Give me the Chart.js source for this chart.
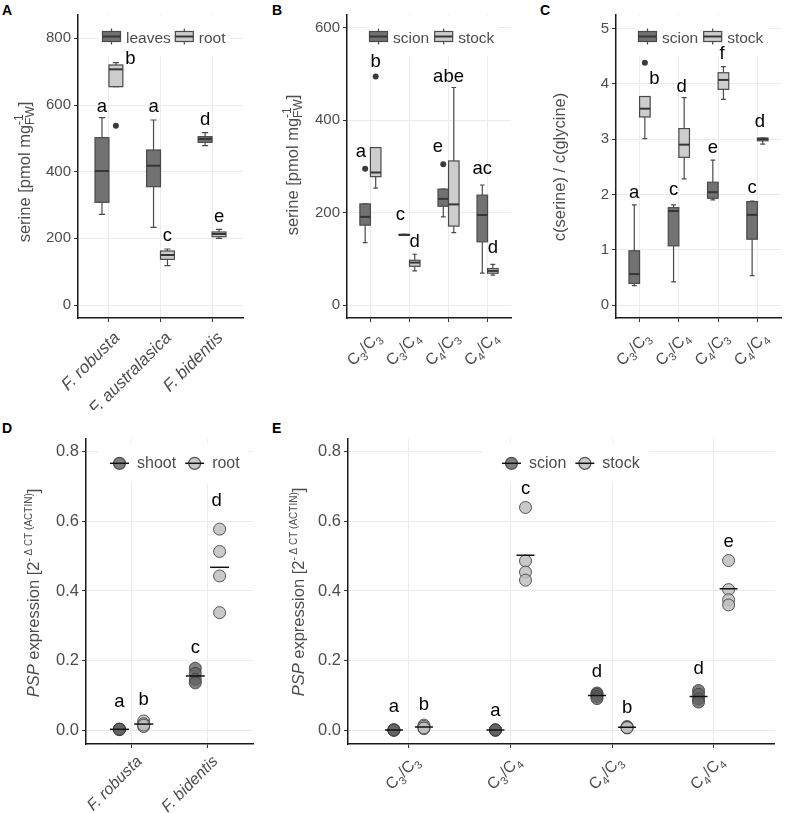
<!DOCTYPE html>
<html>
<head>
<meta charset="utf-8">
<script src="https://cdn.jsdelivr.net/npm/chart.js@4.4.0/dist/chart.umd.min.js"></script>
<style>
  body { margin: 0; background: #fff; width: 785px; height: 813px; position: relative; overflow: hidden;
         font-family: 'Liberation Sans', Arial, sans-serif; }
  canvas { position: absolute; }
  .tag { position: absolute; font-weight: bold; font-size: 14px; line-height: 14px; color: #000; }
</style>
</head>
<body>
<div class="tag" style="left:2px;top:3px">A</div>
<div class="tag" style="left:272px;top:3px">B</div>
<div class="tag" style="left:540px;top:3px">C</div>
<div class="tag" style="left:2px;top:421px">D</div>
<div class="tag" style="left:272px;top:421px">E</div>

<canvas id="cA" style="left:0;top:0" width="255" height="410"></canvas>
<canvas id="cB" style="left:255px;top:0" width="260" height="400"></canvas>
<canvas id="cC" style="left:515px;top:0" width="270" height="400"></canvas>
<canvas id="cD" style="left:0;top:400px" width="265" height="413"></canvas>
<canvas id="cE" style="left:265px;top:400px" width="520" height="413"></canvas>

<script>
// ---------- data ----------
const speciesA = ['F. robusta', 'F. australasica', 'F. bidentis'];
const speciesD = ['F. robusta', 'F. bidentis'];
const graftCats = ['C3/C3', 'C3/C4', 'C4/C3', 'C4/C4'];

// boxes: [lower whisker, Q1, median, Q3, upper whisker]
// A - serine, leaves vs root
const leavesA = [[272, 308, 402, 502, 562], [233, 355, 418, 465, 555], [478, 488, 498, 505, 517]];
const rootA = [[655, 655, 707, 720, 727], [118, 137, 150, 162, 168], [200, 205, 213, 219, 227]];
const leavesOutA = [[], [], []];
const rootOutA = [[538], [], []];
const leavesLettersA = ['a', 'a', 'd'];
const leavesLetterYA = [580, 580, 540];
const rootLettersA = ['b', 'c', 'e'];
const rootLetterYA = [723, 193, 250];
const ticksA = [0, 200, 400, 600, 800];

// B - serine, scion vs stock
const scionB = [[135, 173, 191, 219, 219], [151, 151, 152, 153, 153], [191, 214, 230, 251, 251], [69, 137, 195, 238, 260]];
const stockB = [[253, 278, 287, 341, 341], [74, 84, 92, 97, 110], [157, 171, 218, 312, 471], [65, 69, 74, 79, 88]];
const scionOutB = [[295], [], [305], []];
const stockOutB = [[495], [], [], []];
const scionLettersB = ['a', 'c', 'e', 'ac'];
const scionLetterYB = [321, 184, 332, 283];
const stockLettersB = ['b', 'd', 'abe', 'd'];
const stockLetterYB = [516, 126, 482, 112];
const ticksB = [0, 200, 400, 600];

// C - serine / glycine ratio
const scionC = [[0.35, 0.39, 0.56, 0.98, 1.81], [0.42, 1.07, 1.70, 1.76, 1.81], [1.90, 1.93, 2.04, 2.22, 2.62], [0.53, 1.19, 1.63, 1.87, 1.88]];
const stockC = [[3.01, 3.40, 3.55, 3.77, 3.77], [2.28, 2.67, 2.90, 3.19, 3.75], [3.72, 3.90, 4.07, 4.20, 4.31], [2.91, 2.97, 3.00, 3.02, 3.02]];
const scionOutC = [[], [], [], []];
const stockOutC = [[4.38], [], [], []];
const scionLettersC = ['a', 'c', 'e', 'c'];
const scionLetterYC = [1.93, 1.99, 2.74, 2.02];
const stockLettersC = ['b', 'd', 'f', 'd'];
const stockLetterYC = [3.99, 3.86, 4.45, 3.22];
const ticksC = [0, 1, 2, 3, 4, 5];

// D - PSP expression, shoot vs root (single replicates)
const shootD = [[0.003, 0.004, 0.005, 0.004], [0.179, 0.164, 0.147, 0.137]];
const rootD = [[0.028, 0.020, 0.012, 0.016], [0.577, 0.513, 0.443, 0.338]];
const shootLettersD = ['a', 'c'];
const shootLetterYD = [0.069, 0.222];
const rootLettersD = ['b', 'd'];
const rootLetterYD = [0.074, 0.642];

// E - PSP expression, scion vs stock
const scionE = [[0.001, 0.002, 0.003, 0.002], [0.001, 0.002, 0.003, 0.002], [0.108, 0.104, 0.098, 0.092], [0.115, 0.104, 0.091, 0.082]];
const stockE = [[0.016, 0.012, 0.006, 0.008], [0.639, 0.486, 0.454, 0.431], [0.012, 0.010, 0.008, 0.009], [0.487, 0.404, 0.375, 0.360]];
const scionLettersE = ['a', 'a', 'd', 'd'];
const scionLetterYE = [0.053, 0.043, 0.154, 0.163];
const stockLettersE = ['b', 'c', 'b', 'e'];
const stockLetterYE = [0.06, 0.678, 0.05, 0.527];
const ticksPSP = [0, 0.2, 0.4, 0.6, 0.8];

// ---------- styling ----------
const FONT = "'Liberation Sans', Arial, Helvetica, sans-serif";
const BOX_DARK = '#727272', BOX_LIGHT = '#cdcdcd', BOX_EDGE = '#4a4a4a';
const PT_DARK = 'rgba(100,100,100,0.82)', PT_LIGHT = 'rgba(192,192,192,0.85)', PT_EDGE = 'rgba(60,60,60,0.85)';
const GREY_TXT = '#4d4d4d';

function font(size, italic) {
    return (italic ? 'italic ' : '') + size + 'px ' + FONT;
}

// draws (or measures) a list of text runs; sub/sup runs can be stacked
function runs(ctx, list, base, x, y, draw) {
    let cx = x;
    list.forEach(r => {
        const parts = r.stack || [r];
        let w = 0;
        parts.forEach(s => {
            ctx.font = font(s.size || base, s.it);
            if (draw) ctx.fillText(s.t, cx, y + (s.dy || 0));
            w = Math.max(w, ctx.measureText(s.t).width);
        });
        cx += w;
    });
    return cx - x;
}

function labelRuns(text, size, italic) {
    if (italic) return [{ t: text, it: true }];
    // C3/C4 -> digits as subscripts
    return text.split('').map(ch => /\d/.test(ch)
        ? { t: ch, size: size * 0.7, dy: size * 0.28 }
        : { t: ch });
}

function drawBox(ctx, xs, ys, xc, q, half, fill) {
    const px = xs.getPixelForValue(xc);
    const w = xs.getPixelForValue(xc + half) - px;
    const [lo, q1, med, q3, hi] = q.map(v => ys.getPixelForValue(v));
    const cap = w * 0.45;
    ctx.strokeStyle = BOX_EDGE;
    ctx.lineWidth = 1.2;
    ctx.beginPath();
    ctx.moveTo(px, hi); ctx.lineTo(px, q3);
    ctx.moveTo(px, q1); ctx.lineTo(px, lo);
    ctx.moveTo(px - cap, hi); ctx.lineTo(px + cap, hi);
    ctx.moveTo(px - cap, lo); ctx.lineTo(px + cap, lo);
    ctx.stroke();
    ctx.fillStyle = fill;
    ctx.fillRect(px - w, q3, 2 * w, Math.max(q1 - q3, 1));
    ctx.strokeRect(px - w, q3, 2 * w, Math.max(q1 - q3, 1));
    ctx.strokeStyle = '#363636';
    ctx.lineWidth = 2;
    ctx.beginPath();
    ctx.moveTo(px - w, med); ctx.lineTo(px + w, med);
    ctx.stroke();
}

function drawLegend(ctx, p) {
    const L = p.legend;
    ctx.font = font(p.legendSize);
    const widths = p.series.map(s => ctx.measureText(s.name).width);
    const total = widths.reduce((a, w) => a + L.key + L.gap + w, 0) + L.sep * (widths.length - 1);
    ctx.fillStyle = '#fff';
    ctx.fillRect(L.x - L.padL, L.cy - 20, total + L.padL + L.padR, 40);
    let x = L.x;
    p.series.forEach((s, k) => {
        const kx = x + L.key / 2, cy = L.cy;
        ctx.lineWidth = 1.2;
        if (p.kind === 'box') {
            ctx.strokeStyle = BOX_EDGE;
            ctx.beginPath();
            ctx.moveTo(kx, cy - 8); ctx.lineTo(kx, cy + 8);
            ctx.stroke();
            ctx.fillStyle = s.fill;
            ctx.fillRect(kx - 9, cy - 5, 18, 10);
            ctx.strokeRect(kx - 9, cy - 5, 18, 10);
            ctx.strokeStyle = '#363636';
            ctx.lineWidth = 2;
            ctx.beginPath();
            ctx.moveTo(kx - 9, cy); ctx.lineTo(kx + 9, cy);
            ctx.stroke();
        } else {
            ctx.fillStyle = s.fill;
            ctx.strokeStyle = PT_EDGE;
            ctx.beginPath();
            ctx.arc(kx, cy, 6, 0, Math.PI * 2);
            ctx.fill(); ctx.stroke();
            ctx.strokeStyle = '#111';
            ctx.lineWidth = 1.5;
            ctx.beginPath();
            ctx.moveTo(kx - 9.5, cy); ctx.lineTo(kx + 9.5, cy);
            ctx.stroke();
        }
        ctx.fillStyle = GREY_TXT;
        ctx.font = font(p.legendSize);
        ctx.textAlign = 'left';
        ctx.textBaseline = 'alphabetic';
        ctx.fillText(s.name, x + L.key + L.gap, cy + L.base);
        x += L.key + L.gap + widths[k] + L.sep;
    });
}

function panelPlugin(p) {
    return {
        id: 'panel_' + p.id,
        beforeDatasetsDraw(chart) {
            if (p.kind !== 'box') return;
            const ctx = chart.ctx, xs = chart.scales.x, ys = chart.scales.y;
            ctx.save();
            p.series.forEach((s, k) => {
                const off = (k === 0 ? -1 : 1) * p.off;
                s.boxes.forEach((q, i) => drawBox(ctx, xs, ys, i + 1 + off, q, p.off, s.fill));
            });
            ctx.restore();
        },
        afterDatasetsDraw(chart) {
            const ctx = chart.ctx, xs = chart.scales.x, ys = chart.scales.y;
            ctx.save();
            drawLegend(ctx, p);
            // significance letters
            ctx.fillStyle = '#000';
            ctx.font = font(p.letterSize);
            ctx.textAlign = 'center';
            ctx.textBaseline = 'alphabetic';
            p.series.forEach((s, k) => {
                const off = (k === 0 ? -1 : 1) * p.off;
                s.letters.forEach((t, i) => {
                    const dx = (p.shift && p.shift[k][i]) || 0;
                    ctx.fillText(t, xs.getPixelForValue(i + 1 + off + dx), ys.getPixelForValue(s.letterY[i]));
                });
            });
            ctx.restore();
        },
        afterDraw(chart) {
            const ctx = chart.ctx, xs = chart.scales.x, area = chart.chartArea;
            ctx.save();
            ctx.fillStyle = GREY_TXT;
            ctx.textAlign = 'left';
            ctx.textBaseline = 'alphabetic';
            // rotated category labels
            p.cats.forEach((c, i) => {
                const list = labelRuns(c, p.xSize, p.italic);
                const w = runs(ctx, list, p.xSize, 0, 0, false);
                ctx.save();
                ctx.translate(xs.getPixelForValue(i + 1) + 3, area.bottom + p.xDrop);
                ctx.rotate(-Math.PI / 4);
                runs(ctx, list, p.xSize, -w, p.xSize * 0.72, true);
                ctx.restore();
            });
            // y axis title
            const tw = runs(ctx, p.title.runs, p.titleSize, 0, 0, false);
            ctx.translate(p.title.cx, p.title.cy);
            ctx.rotate(-Math.PI / 2);
            runs(ctx, p.title.runs, p.titleSize, -tw / 2, p.titleSize * 0.35, true);
            ctx.restore();
        }
    };
}

function buildPanel(p) {
    const canvas = document.getElementById(p.id);
    const W = canvas.width, H = canvas.height;
    const datasets = [];
    p.series.forEach((s, k) => {
        const off = (k === 0 ? -1 : 1) * p.off;
        if (p.kind === 'box') {
            const pts = [];
            s.out.forEach((arr, i) => arr.forEach(v => pts.push({ x: i + 1 + off, y: v })));
            datasets.push({ data: pts, pointRadius: 3, backgroundColor: '#3a3a3a', borderWidth: 0, order: 0 });
        } else {
            const pts = [], means = [];
            s.values.forEach((arr, i) => {
                arr.forEach(v => pts.push({ x: i + 1 + off, y: v }));
                means.push({ x: i + 1 + off, y: arr.reduce((a, b) => a + b, 0) / arr.length });
            });
            datasets.push({ data: means, pointStyle: 'line', pointRadius: p.barHalf, borderColor: '#111', borderWidth: 1.5, order: 0 });
            datasets.push({ data: pts, pointRadius: 6, backgroundColor: s.fill, borderColor: PT_EDGE, borderWidth: 1, order: 1 });
        }
    });

    const grid = { color: '#ebebeb', lineWidth: 1, tickColor: '#333', tickLength: 4, drawTicks: true };
    const border = { display: true, color: '#1a1a1a', width: 1.5 };

    return new Chart(canvas, {
        type: 'scatter',
        data: { datasets },
        options: {
            responsive: false,
            animation: false,
            devicePixelRatio: 1,
            events: [],
            layout: { padding: { left: 0, top: p.area.t, right: W - p.area.r, bottom: 0 } },
            plugins: { legend: { display: false }, tooltip: { enabled: false } },
            scales: {
                x: {
                    type: 'linear',
                    min: 0.4,
                    max: p.cats.length + 0.6,
                    afterBuildTicks: s => { s.ticks = p.cats.map((c, i) => ({ value: i + 1 })); },
                    afterFit: s => { s.height = H - p.area.b; },
                    ticks: { display: false },
                    grid, border
                },
                y: {
                    type: 'linear',
                    min: p.yRange[0],
                    max: p.yRange[1],
                    afterBuildTicks: s => { s.ticks = p.yTicks.map(v => ({ value: v })); },
                    afterFit: s => { s.width = p.area.l; },
                    ticks: {
                        color: GREY_TXT,
                        padding: 3,
                        font: { family: FONT, size: p.tickSize },
                        callback: v => p.fmt(v)
                    },
                    grid, border
                }
            }
        },
        plugins: [panelPlugin(p)]
    });
}

const serineTitle = [
    { t: 'serine [pmol mg' },
    { stack: [{ t: '-1', size: 12, dy: -7 }, { t: 'FW', size: 12, dy: 4 }] },
    { t: ']' }
];
const pspTitle = [
    { t: 'PSP', it: true },
    { t: ' expression [2' },
    { t: '- \u0394 CT (ACTIN)', size: 10, dy: -7 },
    { t: ']' }
];

const topCommon = { kind: 'box', off: 0.135, tickSize: 15, legendSize: 15.5, letterSize: 18.5, xSize: 16, xDrop: 12, titleSize: 16.5 };
const botCommon = { kind: 'points', tickSize: 16.5, legendSize: 16, letterSize: 18.5, xSize: 16, xDrop: 10, titleSize: 16.5 };

buildPanel(Object.assign({}, topCommon, {
    id: 'cA', area: { l: 78, t: 15, r: 243, b: 318 },
    cats: speciesA, italic: true, xSize: 17, yRange: [-39, 870], yTicks: ticksA, fmt: v => String(v),
    series: [
        { name: 'leaves', boxes: leavesA, out: leavesOutA, letters: leavesLettersA, letterY: leavesLetterYA, fill: BOX_DARK },
        { name: 'root', boxes: rootA, out: rootOutA, letters: rootLettersA, letterY: rootLetterYA, fill: BOX_LIGHT }
    ],
    shift: [[0, 0, 0], [0.28, 0, 0]],
    legend: { x: 102, cy: 36.5, base: 6, key: 19, gap: 5, sep: 4, padL: 3, padR: 4 },
    title: { cx: 24, cy: 172, runs: serineTitle }
}));

buildPanel(Object.assign({}, topCommon, {
    id: 'cB', area: { l: 92, t: 15, r: 257, b: 318 },
    cats: graftCats, italic: false, yRange: [-28, 628], yTicks: ticksB, fmt: v => String(v),
    series: [
        { name: 'scion', boxes: scionB, out: scionOutB, letters: scionLettersB, letterY: scionLetterYB, fill: BOX_DARK },
        { name: 'stock', boxes: stockB, out: stockOutB, letters: stockLettersB, letterY: stockLetterYB, fill: BOX_LIGHT }
    ],
    shift: [[-0.11, -0.1, -0.14, 0], [0, 0, -0.135, 0]],
    legend: { x: 114, cy: 36.5, base: 6, key: 19, gap: 5, sep: 5, padL: 3, padR: 4 },
    title: { cx: 37, cy: 165, runs: serineTitle }
}));

buildPanel(Object.assign({}, topCommon, {
    id: 'cC', area: { l: 101, t: 15, r: 267, b: 318 },
    cats: graftCats, italic: false, yRange: [-0.235, 5.244], yTicks: ticksC, fmt: v => String(v),
    series: [
        { name: 'scion', boxes: scionC, out: scionOutC, letters: scionLettersC, letterY: scionLetterYC, fill: BOX_DARK },
        { name: 'stock', boxes: stockC, out: stockOutC, letters: stockLettersC, letterY: stockLetterYC, fill: BOX_LIGHT }
    ],
    shift: [[0, 0, 0, 0], [0.245, -0.065, -0.035, -0.075]],
    legend: { x: 123, cy: 36.5, base: 6, key: 19, gap: 5, sep: 5, padL: 3, padR: 4 },
    title: { cx: 44, cy: 167, runs: [{ t: 'c(serine) / c(glycine)' }] }
}));

buildPanel(Object.assign({}, botCommon, {
    id: 'cD', area: { l: 86, t: 39, r: 253, b: 344 },
    cats: speciesD, italic: true, yRange: [-0.038, 0.835], yTicks: ticksPSP, fmt: v => v.toFixed(1),
    off: 0.16, barHalf: 9.5,
    series: [
        { name: 'shoot', values: shootD, letters: shootLettersD, letterY: shootLetterYD, fill: PT_DARK },
        { name: 'root', values: rootD, letters: rootLettersD, letterY: rootLetterYD, fill: PT_LIGHT }
    ],
    shift: [[0, 0], [0, -0.04]],
    legend: { x: 110, cy: 63.3, base: 5, key: 19, gap: 8, sep: 9, padL: 12, padR: 8 },
    title: { cx: 33, cy: 193, runs: pspTitle }
}));

buildPanel(Object.assign({}, botCommon, {
    id: 'cE', area: { l: 83, t: 39, r: 517, b: 344 },
    cats: graftCats, italic: false, yRange: [-0.038, 0.835], yTicks: ticksPSP, fmt: v => v.toFixed(1),
    off: 0.148, barHalf: 9,
    series: [
        { name: 'scion', values: scionE, letters: scionLettersE, letterY: scionLetterYE, fill: PT_DARK },
        { name: 'stock', values: stockE, letters: stockLettersE, letterY: stockLetterYE, fill: PT_LIGHT }
    ],
    legend: { x: 237, cy: 63.3, base: 5, key: 19, gap: 8, sep: 9, padL: 20, padR: 9 },
    title: { cx: 33, cy: 192, runs: pspTitle }
}));
</script>
</body>
</html>
